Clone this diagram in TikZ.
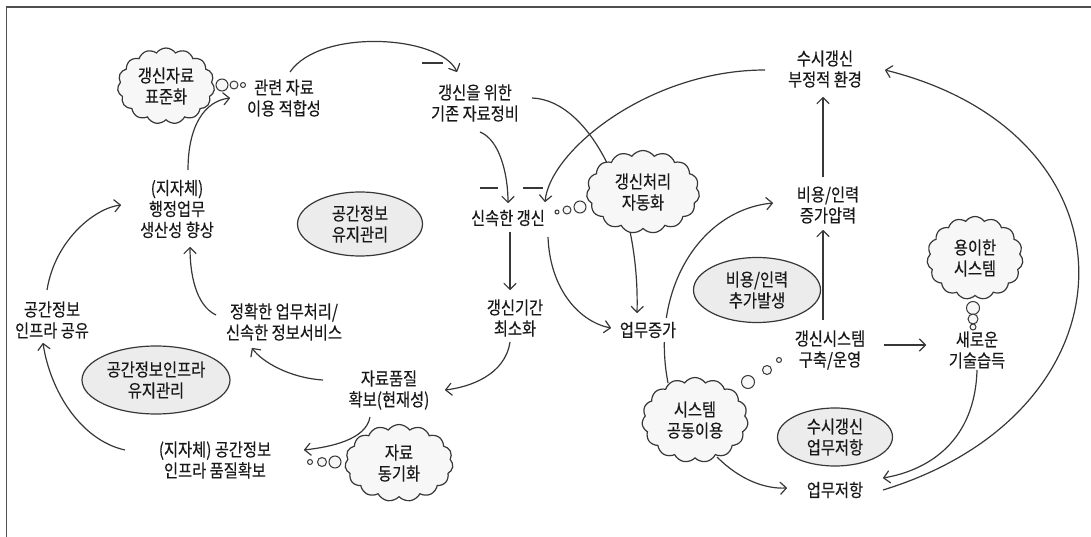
\documentclass[tikz,border=0pt]{standalone}
\usepackage{fontspec}
\setmainfont[FakeStretch=0.85,FakeBold=0.25]{Noto Sans CJK KR}
\usetikzlibrary{shapes.geometric,shapes.symbols,arrows.meta,calc}
\pgfdeclarelayer{bg}
\pgfsetlayers{bg,main}
\definecolor{ln}{RGB}{55,55,55}
\definecolor{txt}{RGB}{25,25,25}
\definecolor{ellfill}{RGB}{236,236,236}
\definecolor{cloudfill}{RGB}{247,247,247}
\definecolor{framecol}{RGB}{80,80,80}
\begin{document}
\begin{tikzpicture}[x=1pt,y=-1pt,
  lbl/.style={align=center,font=\fontsize{18}{21}\selectfont,text=txt,inner sep=2pt},
  ell/.style={ellipse,draw=ln,fill=ellfill,line width=1.2pt,inner sep=0pt},
  cloudbox/.style={cloud,cloud puffs=15,cloud puff arc=110,draw=ln,fill=cloudfill,line width=1.2pt,inner sep=0pt,aspect=1.3},
  arr/.style={draw=ln,line width=1.2pt,-{Straight Barb[length=6pt,width=12pt,round]}},
  con/.style={draw=ln,line width=1.2pt},
  bubble/.style={draw=ln,fill=cloudfill,line width=1pt},
  pol/.style={draw=ln,line width=1.2pt}]
\useasboundingbox (0,0) rectangle (1091,537);
\draw[framecol,line width=1.6pt] (6.5,537) -- (6.5,7) -- (1091,7);

% text nodes
\node[lbl] (Trel) at (284,98) {관련 자료\\이용 적합성};
\node[lbl] (Tadm) at (177,209) {(지자체)\\행정업무\\생산성 향상};
\node[lbl] (Tshare) at (52,320) {공간정보\\인프라 공유};
\node[lbl] (Tacc) at (284,322) {정확한 업무처리/\\신속한 정보서비스};
\node[lbl] (Tqual) at (389,390) {자료품질\\확보(현재성)};
\node[lbl] (Tinfra) at (215,460) {(지자체) 공간정보\\인프라 품질확보};
\node[lbl] (Tprep) at (475,103) {갱신을 위한\\기존 자료정비};
\node[lbl] (Tfast) at (508,218) {신속한 갱신};
\node[lbl] (Tperiod) at (515,318) {갱신기간\\최소화};
\node[lbl] (Tneg) at (825,69) {수시갱신\\부정적 환경};
\node[lbl] (Tcost) at (828,205) {비용/인력\\증가압력};
\node[lbl] (Tsys) at (830,350) {갱신시스템\\구축/운영};
\node[lbl] (Tnew) at (977,350) {새로운\\기술습득};
\node[lbl] (Tresist) at (835,490) {업무저항};

% ellipses
\node[ell,minimum width=125pt,minimum height=64pt] (E1) at (360,224) {};
\node[lbl] (E1t) at (E1) {공간정보\\유지관리};
\node[ell,minimum width=148pt,minimum height=68pt] (E2) at (156,380) {};
\node[lbl] (E2t) at (E2) {공간정보인프라\\유지관리};
\node[ell,minimum width=127pt,minimum height=65pt] (E3) at (757,290) {};
\node[lbl] (E3t) at (E3) {비용/인력\\추가발생};
\node[ell,minimum width=115pt,minimum height=58pt] (E4) at (835,437) {};
\node[lbl] (E4t) at (E4) {수시갱신\\업무저항};

% clouds
\node[cloudbox,minimum width=97pt,minimum height=76pt] (C1) at (166,86) {};
\node[lbl] (C1t) at (C1) {갱신자료\\표준화};
\node[cloudbox,minimum width=113pt,minimum height=83pt] (C2) at (643,192) {};
\node[lbl] (C2t) at (C2) {갱신처리\\자동화};
\node[cloudbox,minimum width=108pt,minimum height=77pt] (C3) at (399,463) {};
\node[lbl] (C3t) at (C3) {자료\\동기화};
\node[cloudbox,minimum width=106pt,minimum height=85pt] (C4) at (695,420) {};
\node[lbl] (C4t) at (C4) {시스템\\공동이용};
\node[cloudbox,minimum width=96pt,minimum height=83pt] (C5) at (975,258) {};
\node[lbl] (C5t) at (C5) {용이한\\시스템};

% node on top of a passing line
\node[lbl,fill=white,inner xsep=1pt,inner ysep=4pt] (Twork) at (648,330) {업무증가};

% thought bubbles
\draw[bubble] (222,85) circle[radius=6pt];
\draw[bubble] (234,85) circle[radius=4pt];
\draw[bubble] (243,85) circle[radius=2.5pt];
\draw[bubble] (580,207) circle[radius=6pt];
\draw[bubble] (567,210) circle[radius=4pt];
\draw[bubble] (557,212) circle[radius=2pt];
\draw[bubble] (335,462) circle[radius=6pt];
\draw[bubble] (322,462) circle[radius=4.5pt];
\draw[bubble] (310,462) circle[radius=2.5pt];
\draw[bubble] (748,382) circle[radius=6.5pt];
\draw[bubble] (767,370) circle[radius=4.5pt];
\draw[bubble] (779,360) circle[radius=2.5pt];
\draw[bubble] (973,308) circle[radius=6.5pt];
\draw[bubble] (973,319) circle[radius=5pt];
\draw[bubble] (973,327) circle[radius=3pt];

% polarity marks
\draw[pol] (422,63) -- (443,63);
\draw[pol] (480,188) -- (498,188);
\draw[pol] (523,188) -- (543,188);

\begin{pgfonlayer}{bg}
\draw[arr] ($(Tadm)+(11,-39)$) .. controls (188,125) and (205,101) .. ($(Trel)+(-54,0)$);
\draw[arr] ($(Trel)+(6,-26)$) .. controls (320,28) and (440,35) .. ($(Tprep)+(-18,-31)$);
\draw[arr] ($(Tprep)+(5,29)$) .. controls (500,140) and (508,175) .. ($(Tfast)+(0,-15)$);
\draw[arr] ($(Tprep)+(57,-5)$) .. controls (590,100) and (640,200) .. ($(Twork)+(-11,-17)$);
\draw[arr] ($(Tneg)+(-60,1)$) .. controls (650,70) and (550,150) .. ($(Tfast)+(37,-16)$);
\draw[arr] ($(Tfast)+(2,14)$) -- ($(Tperiod)+(-5,-28)$);
\draw[arr] ($(Tfast)+(40,19)$) .. controls (550,290) and (580,322) .. ($(Twork)+(-37,-2)$);
\draw[arr] ($(Tperiod)+(-5,24)$) .. controls (505,375) and (470,387) .. ($(Tqual)+(56,0)$);
\draw[arr] ($(Tqual)+(-66,-10)$) .. controls (290,378) and (262,362) .. ($(Tacc)+(-32,26)$);
\draw[arr] ($(Tacc)+(-68,-7)$) .. controls (195,305) and (190,272) .. ($(Tadm)+(13,38)$);
\draw[arr] ($(Tqual)+(-19,27)$) .. controls (366,440) and (330,447) .. ($(Tinfra)+(89,-10)$);
\draw[arr] ($(Tinfra)+(-90,-10)$) .. controls (80,440) and (50,390) .. ($(Tshare)+(-9,23)$);
\draw[arr] ($(Tshare)+(-5,-30)$) .. controls (55,240) and (95,208) .. ($(Tadm)+(-56,-4)$);
\draw[arr] ($(C4)+(-27,-37)$) .. controls (650,290) and (700,210) .. ($(Tcost)+(-55,-2)$);
\draw[arr] ($(Tcost)+(-5,-28)$) -- ($(Tneg)+(-2,28)$);
\draw[arr] ($(Tsys)+(-7,-30)$) -- ($(Tcost)+(-5,25)$);
\draw[arr] ($(Tsys)+(54,-5)$) -- ($(Tnew)+(-51,-5)$);
\draw[arr] ($(Tnew)+(0,20)$) .. controls (975,440) and (930,470) .. ($(Tresist)+(48,-12)$);
\draw[arr] ($(Tresist)+(48,0)$) .. controls (1141,411) and (1146,135) .. ($(Tneg)+(60,1)$);
\draw[arr] ($(C4)+(22,37)$) .. controls (740,480) and (765,489) .. ($(Tresist)+(-48,-2)$);
\end{pgfonlayer}
\end{tikzpicture}
\end{document}
